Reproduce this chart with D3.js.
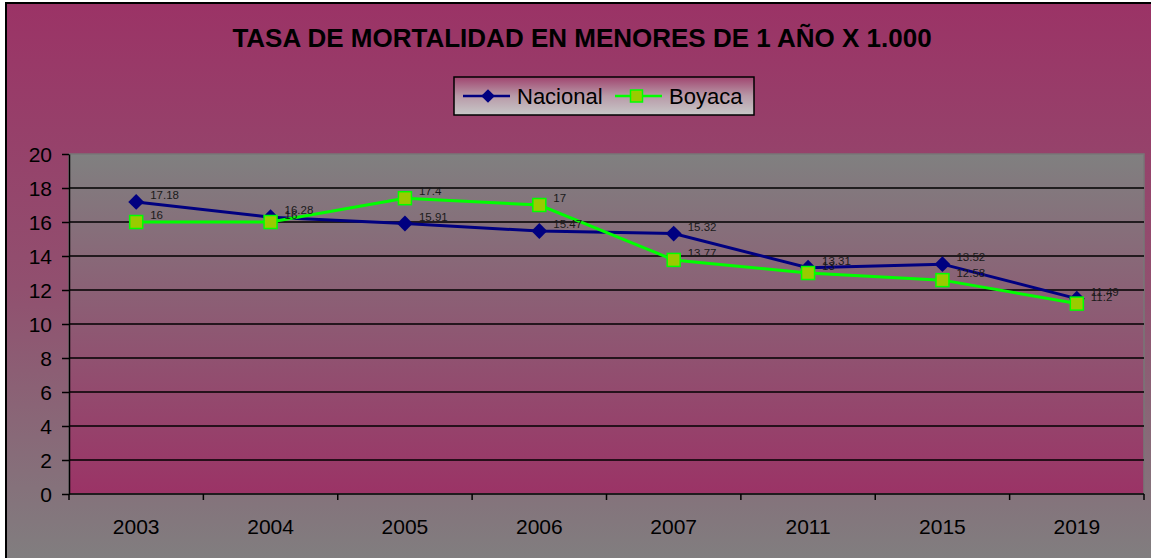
<!DOCTYPE html>
<meta charset="utf-8">
<style>
  body { margin: 0; background: #fff; }
  svg { display: block; font-family: "Liberation Sans", Arial, sans-serif; }
  .grid line { stroke: #000; stroke-width: 1.5; }
  .axis path, .axis line { stroke: #000; stroke-width: 1.5; }
  .axis text { font-size: 21px; fill: #000; font-family: "Liberation Sans", Arial, sans-serif; }
  .lbl { font-size: 11.5px; fill: #1a1a1a; }
</style>
<body>
<script src="https://cdn.jsdelivr.net/npm/d3@7"></script>
<script>
  // chart data
  var years = ["2003", "2004", "2005", "2006", "2007", "2011", "2015", "2019"];
  var nacional = [17.18, 16.28, 15.91, 15.47, 15.32, 13.31, 13.52, 11.49];
  var boyaca = [16, 16, 17.4, 17, 13.77, 13, 12.58, 11.2];
  var yTicks = [0, 2, 4, 6, 8, 10, 12, 14, 16, 18, 20];
  var title = "TASA DE MORTALIDAD EN MENORES DE 1 AÑO X 1.000";

  var W = 1151, H = 558;
  var plot = {left: 69, top: 154, right: 1144, bottom: 494};

  var svg = d3.select("body").append("svg")
      .attr("width", W)
      .attr("height", H);

  var defs = svg.append("defs");
  function grad(id, stops) {
    var g = defs.append("linearGradient").attr("id", id)
        .attr("x1", 0).attr("y1", 0).attr("x2", 0).attr("y2", 1);
    stops.forEach(function(s) {
      g.append("stop").attr("offset", s[0]).attr("stop-color", s[1]);
    });
  }
  grad("outerBg", [[0, "#9b3366"], [0.5, "#91506f"], [1, "#808080"]]);
  grad("plotBg", [[0, "#808080"], [1, "#9b3366"]]);
  grad("legBg", [[0, "#a0456f"], [0.5, "#b89aa8"], [1, "#c8c8c8"]]);

  // outer chart area
  svg.append("rect")
      .attr("x", 6).attr("y", 3)
      .attr("width", W + 10).attr("height", H + 10)
      .attr("fill", "url(#outerBg)")
      .attr("stroke", "#000").attr("stroke-width", 2);

  // plot area
  svg.append("rect")
      .attr("x", plot.left).attr("y", plot.top)
      .attr("width", plot.right - plot.left).attr("height", plot.bottom - plot.top)
      .attr("fill", "url(#plotBg)")
      .attr("stroke", "#777").attr("stroke-width", 1.5);

  var x = d3.scaleBand()
      .domain(years)
      .range([plot.left, plot.right]);

  var y = d3.scaleLinear()
      .domain([0, 20])
      .range([plot.bottom, plot.top]);

  // horizontal gridlines
  svg.append("g").attr("class", "grid")
    .selectAll("line")
    .data(yTicks.filter(function(d) { return d > 0 && d < 20; }))
    .enter().append("line")
      .attr("x1", plot.left).attr("x2", plot.right)
      .attr("y1", function(d) { return y(d); })
      .attr("y2", function(d) { return y(d); });

  // y axis
  var yAxis = svg.append("g").attr("class", "axis")
      .attr("transform", "translate(" + plot.left + ",0)")
      .call(d3.axisLeft(y).tickValues(yTicks).tickSize(7).tickPadding(10).tickSizeOuter(0));
  yAxis.selectAll("text").attr("dy", "0.36em");

  // x axis with ticks between categories
  var xAxis = svg.append("g").attr("class", "axis")
      .attr("transform", "translate(0," + plot.bottom + ")")
      .call(d3.axisBottom(x).tickSize(0).tickPadding(25));
  xAxis.select(".domain").attr("d", "M" + plot.left + ",0H" + plot.right);
  var bounds = d3.range(years.length + 1).map(function(i) { return plot.left + i * x.bandwidth(); });
  xAxis.selectAll(".sep")
    .data(bounds)
    .enter().append("line")
      .attr("class", "sep")
      .attr("x1", function(d) { return d; }).attr("x2", function(d) { return d; })
      .attr("y1", 0).attr("y2", 6);

  var cx = function(d, i) { return x(years[i]) + x.bandwidth() / 2; };
  var line = d3.line()
      .x(function(d, i) { return cx(d, i); })
      .y(function(d) { return y(d); });

  // series lines
  svg.append("path").datum(nacional)
      .attr("d", line)
      .attr("fill", "none").attr("stroke", "#000080").attr("stroke-width", 3);
  svg.append("path").datum(boyaca)
      .attr("d", line)
      .attr("fill", "none").attr("stroke", "#00ff00").attr("stroke-width", 3);

  var diamond = d3.symbol().type(d3.symbolDiamond2).size(160);

  // markers
  svg.selectAll(".nac")
    .data(nacional)
    .enter().append("path")
      .attr("class", "nac")
      .attr("d", diamond)
      .attr("transform", function(d, i) { return "translate(" + cx(d, i) + "," + y(d) + ")"; })
      .attr("fill", "#000080");

  svg.selectAll(".boy")
    .data(boyaca)
    .enter().append("rect")
      .attr("class", "boy")
      .attr("x", function(d, i) { return cx(d, i) - 6.5; })
      .attr("y", function(d) { return y(d) - 6.5; })
      .attr("width", 13).attr("height", 13)
      .attr("fill", "#99cc00")
      .attr("stroke", "#00ff00").attr("stroke-width", 1.5);

  // data labels
  function labels(data) {
    svg.append("g").selectAll("text")
      .data(data)
      .enter().append("text")
        .attr("class", "lbl")
        .attr("x", function(d, i) { return cx(d, i) + 14; })
        .attr("y", function(d) { return y(d) - 3; })
        .text(function(d) { return d; });
  }
  labels(nacional);
  labels(boyaca);

  // title
  svg.append("text")
      .attr("x", 582).attr("y", 47)
      .attr("text-anchor", "middle")
      .attr("font-size", "26px").attr("font-weight", "bold")
      .text(title);

  // legend
  var leg = svg.append("g").attr("transform", "translate(454,77)");
  leg.append("rect")
      .attr("width", 300).attr("height", 38)
      .attr("fill", "url(#legBg)")
      .attr("stroke", "#000").attr("stroke-width", 1.5);
  var items = [
    {name: "Nacional", color: "#000080", x: 9},
    {name: "Boyaca", color: "#00ff00", x: 161}
  ];
  items.forEach(function(it, k) {
    var g = leg.append("g").attr("transform", "translate(" + it.x + ",19)");
    g.append("line").attr("x1", 0).attr("x2", 47)
        .attr("stroke", it.color).attr("stroke-width", 2.5);
    if (k === 0) {
      g.append("path").attr("d", d3.symbol().type(d3.symbolDiamond2).size(120))
          .attr("transform", "translate(25,0)").attr("fill", it.color);
    } else {
      g.append("rect").attr("x", 15.5).attr("y", -6).attr("width", 12).attr("height", 12)
          .attr("fill", "#99cc00").attr("stroke", "#00ff00").attr("stroke-width", 1.5);
    }
    g.append("text").attr("x", 54).attr("y", 8)
        .attr("font-size", "22px").attr("fill", "#000")
        .text(it.name);
  });
</script>
</body>
